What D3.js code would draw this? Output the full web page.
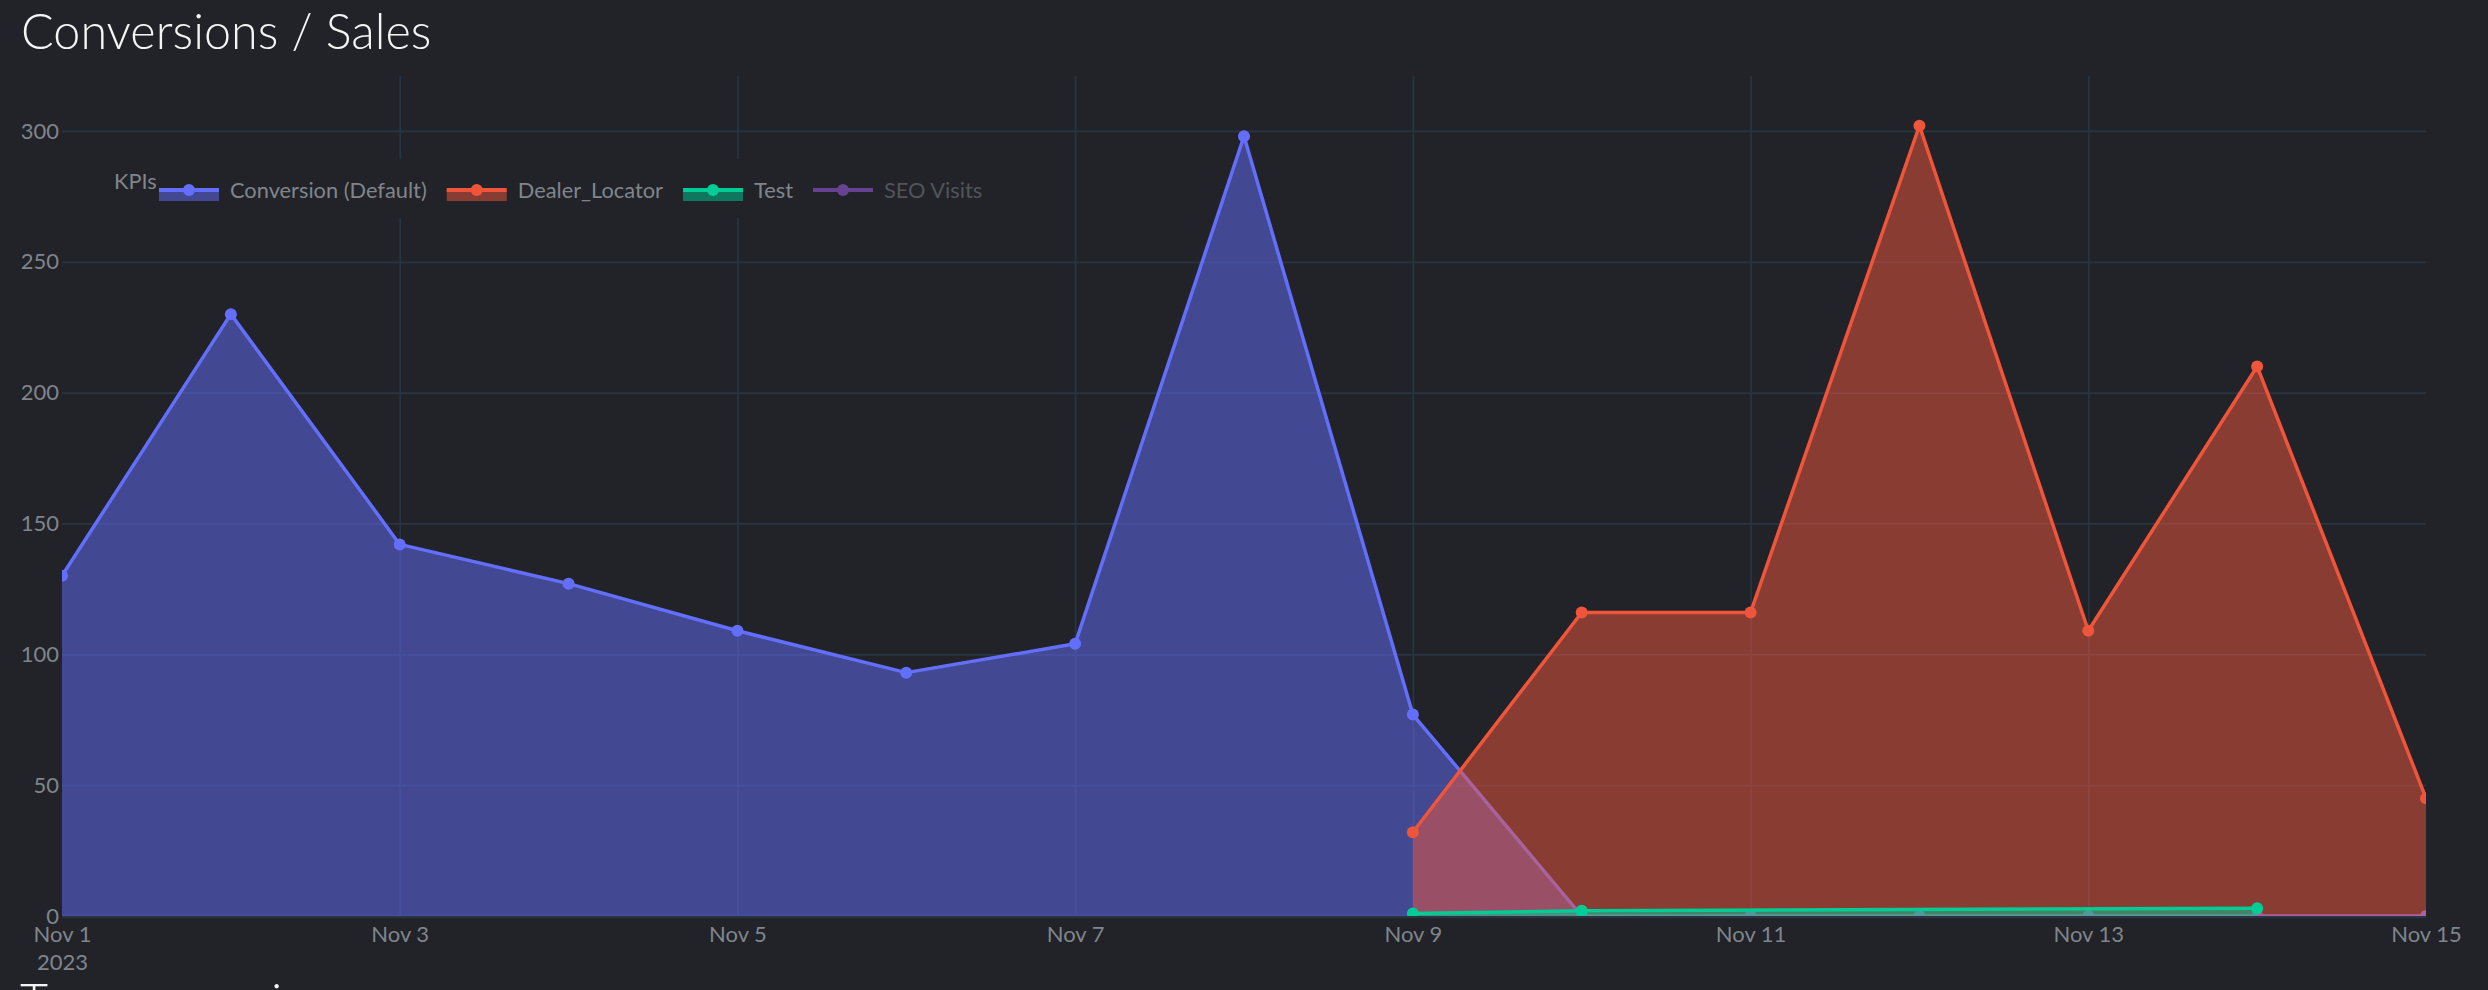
<!DOCTYPE html>
<html>
<head>
<meta charset="utf-8">
<script src="https://cdn.jsdelivr.net/npm/d3@7"></script>
<style>
  html, body { margin: 0; padding: 0; background: #212328; overflow: hidden; }
  svg { display: block; }
  text { font-family: Lato, 'Noto Sans', sans-serif; }
</style>
</head>
<body>
<svg id="chart" width="2488" height="990"></svg>
<script>
'use strict';

// data
let conversionDates = [
  '2023-11-01', '2023-11-02', '2023-11-03', '2023-11-04', '2023-11-05',
  '2023-11-06', '2023-11-07', '2023-11-08', '2023-11-09', '2023-11-10',
  '2023-11-11', '2023-11-12', '2023-11-13', '2023-11-14', '2023-11-15'
];
let conversionValues = [130, 230, 142, 127, 109, 93, 104, 298, 77, 0, 0, 0, 0, 0, 0];

let dealerLocatorDates = [
  '2023-11-09', '2023-11-10', '2023-11-11', '2023-11-12',
  '2023-11-13', '2023-11-14', '2023-11-15'
];
let dealerLocatorValues = [32, 116, 116, 302, 109, 210, 45];

let testDates = ['2023-11-09', '2023-11-10', '2023-11-14'];
let testValues = [1, 2, 3];

// hidden in the legend (legendonly), nothing drawn
let seoVisitsDates = [];
let seoVisitsValues = [];

let seriesNames = ['Conversion (Default)', 'Dealer_Locator', 'Test', 'SEO Visits'];
let seriesColors = ['#636efa', '#ef553b', '#00cc96', '#ab63fa'];
let seriesVisible = [true, true, true, false];

let xDomain = ['2023-11-01', '2023-11-15'];
let xTickDates = [
  '2023-11-01', '2023-11-03', '2023-11-05', '2023-11-07',
  '2023-11-09', '2023-11-11', '2023-11-13', '2023-11-15'
];
let yTicks = [0, 50, 100, 150, 200, 250, 300];
let yMax = 321;

let parseDate = d3.utcParse('%Y-%m-%d');

let bg = '#212328';
let gridColor = '#283442';
let labelColor = '#80858c';
let tickFont = '22px';
let legendFont = '21.8px';

let margin = {top: 76, right: 62, bottom: 74, left: 62};
let width = 2488;
let height = 990;

let svg = d3.select('#chart');

svg
  .append('rect')
  .attr('width', width)
  .attr('height', height)
  .attr('fill', bg);

let x = d3
  .scaleUtc()
  .domain(xDomain.map(parseDate))
  .range([margin.left, width - margin.right]);

let y = d3
  .scaleLinear()
  .domain([0, yMax])
  .range([height - margin.bottom, margin.top]);

svg
  .append('defs')
  .append('clipPath')
  .attr('id', 'plot-clip')
  .append('rect')
  .attr('x', margin.left)
  .attr('y', margin.top)
  .attr('width', width - margin.left - margin.right)
  .attr('height', height - margin.top - margin.bottom);

// title
svg
  .append('text')
  .attr('x', 21)
  .attr('y', 49)
  .attr('fill', '#f4f4f4')
  .attr('font-size', '48.5px')
  .attr('font-weight', 300)
  .text('Conversions / Sales');

// x axis with vertical grid (no grid line on the plot edges)
let xAxis = svg
  .append('g')
  .attr('transform', 'translate(0,' + (height - margin.bottom) + ')')
  .call(
    d3
      .axisBottom(x)
      .tickValues(xTickDates.map(parseDate))
      .tickFormat(d3.utcFormat('%b %-d'))
      .tickSize(-(height - margin.top - margin.bottom))
      .tickPadding(10)
  );
xAxis.select('.domain').remove();
xAxis
  .selectAll('.tick line')
  .attr('stroke', gridColor)
  .attr('stroke-width', 1.75)
  .attr('stroke-opacity', function(d, i, nodes) {
    return i === 0 || i === nodes.length - 1 ? 0 : 1;
  });
xAxis
  .selectAll('.tick text')
  .attr('fill', labelColor)
  .attr('font-size', tickFont)
  .attr('font-family', 'Lato, sans-serif');
xAxis
  .select('.tick text')
  .append('tspan')
  .attr('x', 0)
  .attr('dy', '1.3em')
  .text('2023');

// y axis with horizontal grid
let yAxis = svg
  .append('g')
  .attr('transform', 'translate(' + margin.left + ',0)')
  .call(
    d3
      .axisLeft(y)
      .tickValues(yTicks)
      .tickSize(-(width - margin.left - margin.right))
      .tickPadding(3)
  );
yAxis.select('.domain').remove();
yAxis
  .selectAll('.tick line')
  .attr('stroke', gridColor)
  .attr('stroke-width', function(d) { return d === 0 ? 3.5 : 1.75; });
yAxis
  .selectAll('.tick text')
  .attr('fill', labelColor)
  .attr('font-size', tickFont)
  .attr('font-family', 'Lato, sans-serif');

// traces, drawn in order so each fill sits over the previous line
let seriesData = [
  d3.zip(conversionDates, conversionValues),
  d3.zip(dealerLocatorDates, dealerLocatorValues),
  d3.zip(testDates, testValues),
  d3.zip(seoVisitsDates, seoVisitsValues)
].map(function(rows) {
  return rows.map(function(r) { return {date: parseDate(r[0]), value: r[1]}; });
});

let area = d3
  .area()
  .x(function(d) { return x(d.date); })
  .y0(y(0))
  .y1(function(d) { return y(d.value); });

let line = d3
  .line()
  .x(function(d) { return x(d.date); })
  .y(function(d) { return y(d.value); });

let plot = svg.append('g').attr('clip-path', 'url(#plot-clip)');

seriesData.forEach(function(data, i) {
  if (!seriesVisible[i] || data.length === 0) return;
  let g = plot.append('g');
  g
    .append('path')
    .datum(data)
    .attr('d', area)
    .attr('fill', seriesColors[i])
    .attr('fill-opacity', 0.5);
  g
    .append('path')
    .datum(data)
    .attr('d', line)
    .attr('fill', 'none')
    .attr('stroke', seriesColors[i])
    .attr('stroke-width', 3.5)
    .attr('stroke-linejoin', 'round');
  g
    .selectAll('circle')
    .data(data)
    .join('circle')
    .attr('cx', function(d) { return x(d.date); })
    .attr('cy', function(d) { return y(d.value); })
    .attr('r', 6)
    .attr('fill', seriesColors[i]);
});

// legend
let legend = svg.append('g');
let legendBg = legend
  .append('rect')
  .attr('fill', bg)
  .attr('y', 159)
  .attr('height', 59);

legend
  .append('text')
  .attr('x', 114)
  .attr('y', 189)
  .attr('fill', labelColor)
  .attr('font-size', legendFont)
  .text('KPIs');

let itemX = 159;
seriesNames.forEach(function(name, i) {
  let item = legend
    .append('g')
    .attr('transform', 'translate(' + itemX + ',190)')
    .attr('opacity', seriesVisible[i] ? 1 : 0.5);
  if (seriesVisible[i]) {
    item
      .append('rect')
      .attr('x', 0)
      .attr('y', 0)
      .attr('width', 60)
      .attr('height', 11)
      .attr('fill', seriesColors[i])
      .attr('fill-opacity', 0.5);
  }
  item
    .append('line')
    .attr('x1', 0)
    .attr('x2', 60)
    .attr('stroke', seriesColors[i])
    .attr('stroke-width', 4);
  item
    .append('circle')
    .attr('cx', 30)
    .attr('r', 6)
    .attr('fill', seriesColors[i]);
  let label = item
    .append('text')
    .attr('x', 71)
    .attr('y', 8)
    .attr('fill', labelColor)
    .attr('font-size', legendFont)
    .text(name);
  itemX += 71 + label.node().getComputedTextLength() + 20;
});
legendBg.attr('x', 104).attr('width', itemX - 104);

// next section heading, cut off by the frame
svg
  .append('text')
  .attr('x', 20)
  .attr('y', 1019)
  .attr('fill', '#f4f4f4')
  .attr('font-size', '48.5px')
  .attr('font-weight', 300)
  .text('Top conversions');
</script>
</body>
</html>
